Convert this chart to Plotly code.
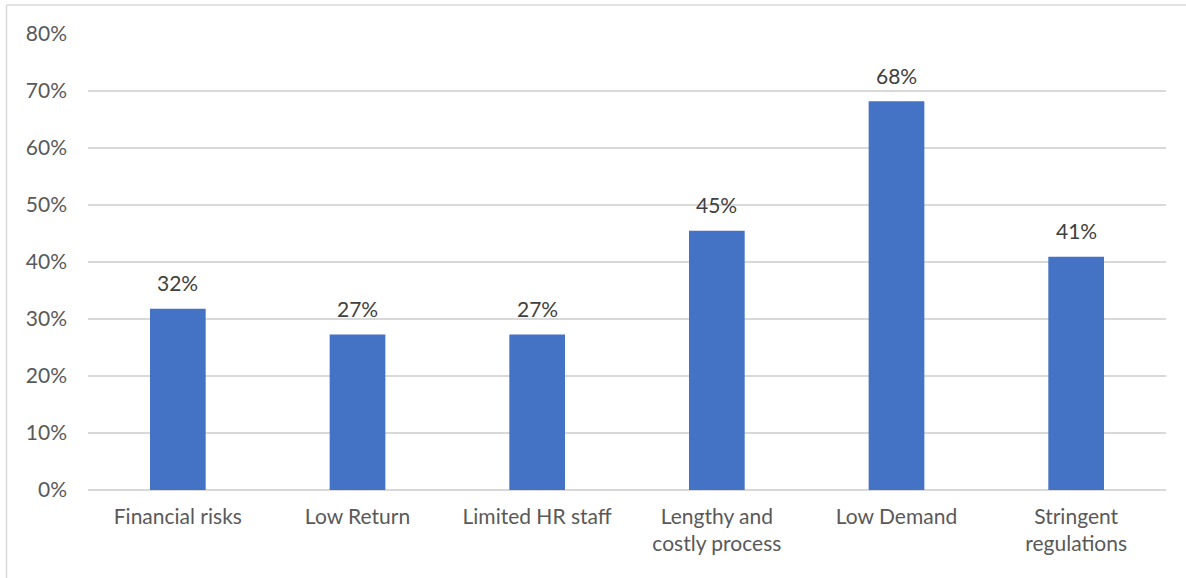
import plotly.graph_objects as go

categories = ["Financial risks", "Low Return", "Limited HR staff",
              "Lengthy and<br>costly process", "Low Demand", "Stringent<br>regulations"]
values = [31.8, 27.3, 27.3, 45.5, 68.2, 40.9]
labels = ["32%", "27%", "27%", "45%", "68%", "41%"]
y_ticks = [0, 10, 20, 30, 40, 50, 60, 70, 80]
y_ticktext = [f"{v}%" for v in y_ticks]

FONT = "Lato"
fig = go.Figure(go.Bar(
    x=categories, y=values,
    marker=dict(color="#4472C4", line=dict(width=0)),
    cliponaxis=False, width=0.31, hoverinfo="x+y",
))

annotations = [
    dict(x=c, y=v, text=t, xref="x", yref="y", showarrow=False,
         yanchor="middle", yshift=26,
         font=dict(family=FONT, size=21, color="#404040"))
    for c, v, t in zip(categories, values, labels)
]

fig.update_layout(
    width=1186, height=578,
    margin=dict(l=88, r=20, t=34, b=88),
    plot_bgcolor="white", paper_bgcolor="white",
    showlegend=False,
    font=dict(family=FONT, size=21, color="#595959"),
    annotations=annotations,
    xaxis=dict(showgrid=False, showline=False, zeroline=False,
               tickfont=dict(family=FONT, size=21, color="#595959"),
               ticklabelstandoff=12),
    yaxis=dict(range=[0, 80], tickvals=y_ticks, ticktext=y_ticktext,
               showgrid=True, gridcolor="#d9d9d9", gridwidth=1.5,
               zeroline=True, zerolinecolor="#d9d9d9", zerolinewidth=1.5,
               showline=False,
               tickfont=dict(family=FONT, size=21, color="#595959"),
               ticklabelstandoff=20),
    shapes=[
        dict(type="line", xref="paper", yref="paper", x0=-0.0756, x1=-0.0756, y0=1.0636, y1=-0.3,
             line=dict(color="#d9d9d9", width=1.5)),
        dict(type="line", xref="paper", yref="paper", x0=-0.0756, x1=1.1, y0=1.0636, y1=1.0636,
             line=dict(color="#d9d9d9", width=1.5)),
    ],
)

fig.write_html("out.html")
